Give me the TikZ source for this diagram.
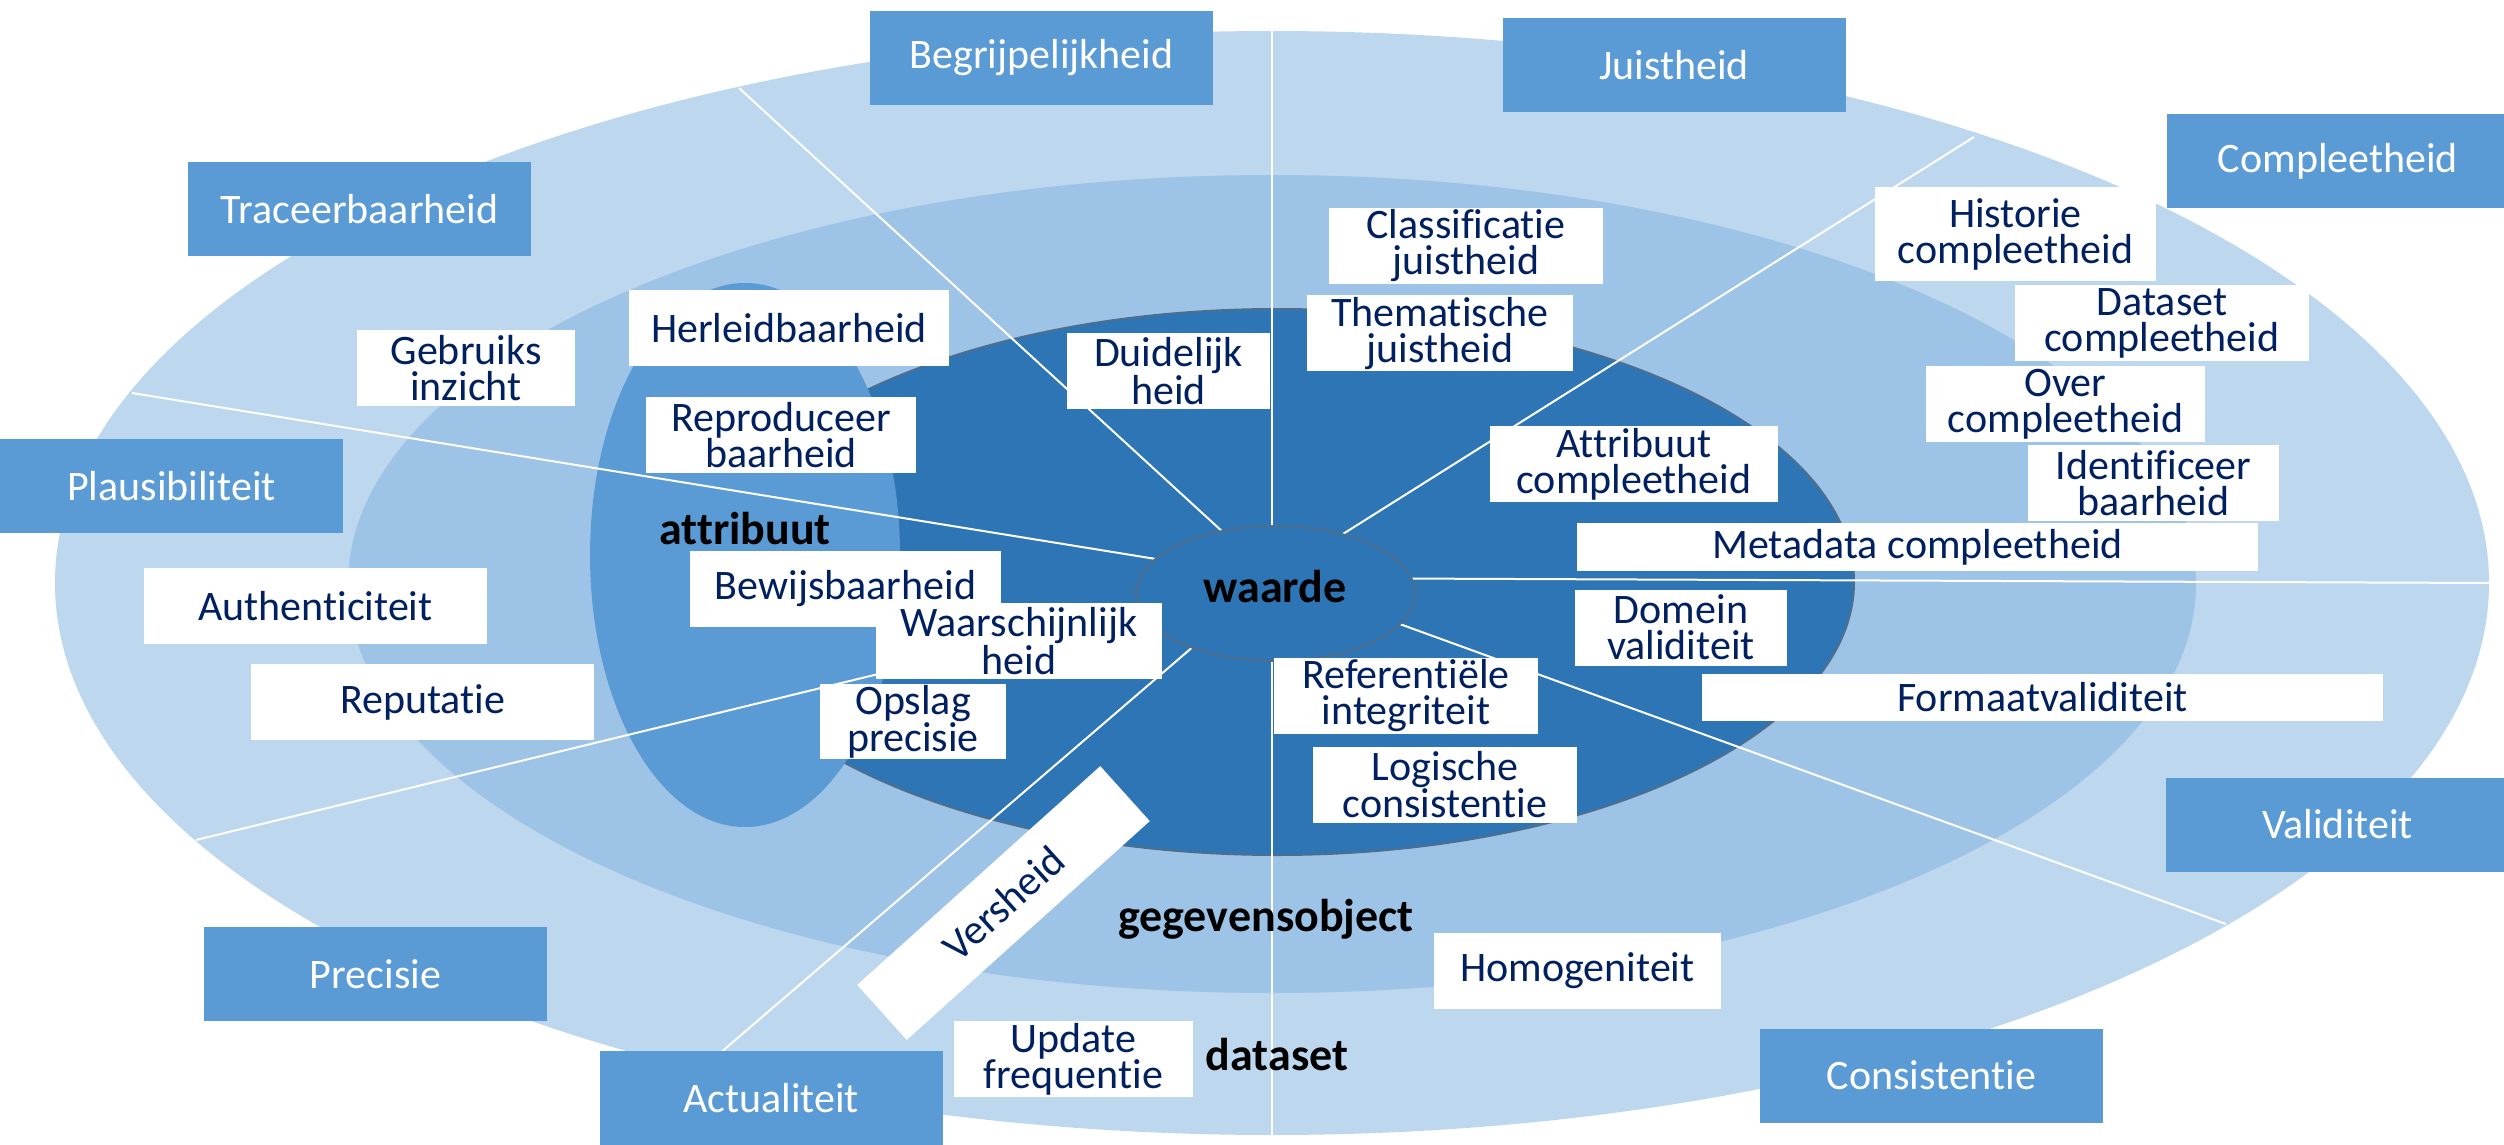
\documentclass[tikz,border=0pt]{standalone}
\usepackage{fontspec}
\setmainfont{Carlito}[Ligatures=CommonOff]
\usetikzlibrary{shapes.geometric}
\usetikzlibrary{positioning}

\definecolor{ringbuiten}{HTML}{BDD7EE}
\definecolor{ringmidden}{HTML}{9DC3E6}
\definecolor{ringkern}{HTML}{2E75B6}
\definecolor{accent}{HTML}{5B9BD5}
\definecolor{navy}{HTML}{002060}
\definecolor{rand}{HTML}{4E6E8E}

\begin{document}
\begin{tikzpicture}[x=1pt, y=-1pt,
  kenmerk/.style={fill=accent, text=white, minimum width=343pt, minimum height=94pt, inner sep=0pt, font=\fontsize{42}{36}\selectfont},
  dim/.style={fill=white, text=navy, align=center, minimum height=76pt, inner sep=0pt, font=\fontsize{42}{36}\selectfont},
  niveau/.style={anchor=base, font=\fontsize{46}{50}\selectfont\bfseries},
  spaak/.style={white, line width=2pt}]
  \useasboundingbox (0,0) rectangle (2504,1145);

  \fill [ringbuiten] (1272,583) ellipse [x radius=1217pt, y radius=552pt];
  \fill [ringmidden] (1272,584) ellipse [x radius=924pt, y radius=409pt];
  \filldraw [fill=ringkern, draw=rand, line width=2pt] (1277,582) ellipse [x radius=577pt, y radius=273pt];
  \fill [accent] (745,555) ellipse [x radius=155pt, y radius=272pt];

  \coordinate (hub) at (1273,578);
  \coordinate (r1) at (739,88);
  \coordinate (r2) at (1974,137);
  \coordinate (r3) at (2490,583);
  \coordinate (r4) at (2226,924);
  \coordinate (r5) at (705,1066);
  \coordinate (r6) at (196,840);
  \coordinate (r7) at (132,393);
  \coordinate (vTop) at (1272,31);
  \coordinate (vBot) at (1272,1136);
  \draw [spaak] (vTop) -- (vBot);
  \draw [spaak] (hub) -- (r1);
  \draw [spaak] (hub) -- (r2);
  \draw [spaak] (hub) -- (r3);
  \draw [spaak] (hub) -- (r4);
  \draw [spaak] (hub) -- (r5);
  \draw [spaak] (hub) -- (r6);
  \draw [spaak] (hub) -- (r7);

  \node (waarde) [ellipse, fill=ringkern, draw=rand, line width=2pt, minimum width=279pt, minimum height=135pt, inner sep=0pt] at (1275.5,593.5) {};
  \node (tWaarde) [niveau] at (1275,602) {waarde};
  \node (tAttr) [niveau] at (745,544) {attribuut};
  \node (tObj) [niveau] at (1266,931) {gegevensobject};
  \node (tSet) [niveau] at (1277,1070) {dataset};

  \node (kBegr) [kenmerk] at (1041.5,58) {Begrijpelijkheid};
  \node (kJuist) [kenmerk] at (1674,65) {Juistheid};
  \node (kCompl) [kenmerk] at (2338,161) {Compleetheid};
  \node (kTrac) [kenmerk] at (359.5,209) {Traceerbaarheid};
  \node (kPlaus) [kenmerk] at (171.5,486) {Plausibiliteit};
  \node (kPrec) [kenmerk] at (375.5,974) {Precisie};
  \node (kActu) [kenmerk] at (771,1098) {Actualiteit};
  \node (kVal) [kenmerk] at (2337.5,824.5) {Validiteit};
  \node (kCons) [kenmerk] at (1931.5,1075.5) {Consistentie};

  \node (iGebr) [dim, minimum width=218pt] at (466,368) {Gebruiks\\inzicht};
  \node (iHerl) [dim, minimum width=320pt] at (789,328) {Herleidbaarheid};
  \node (iRepr) [dim, minimum width=270pt, below=31pt of iHerl, xshift=-8pt] {Reproduceer\\baarheid};
  \node (iDuid) [dim, minimum width=203pt] at (1168.5,371) {Duidelijk\\heid};
  \node (iBewijs) [dim, minimum width=311pt] at (845.5,589) {Bewijsbaarheid};
  \node (iWaars) [dim, minimum width=286pt] at (1019,641) {Waarschijnlijk\\heid};
  \node (iOpsl) [dim, minimum width=186pt, minimum height=75pt] at (913,721.5) {Opslag\\precisie};
  \node (iAuth) [dim, minimum width=343pt] at (315.5,606) {Authenticiteit};
  \node (iRep) [dim, minimum width=343pt, below=20pt of iAuth, xshift=107pt] {Reputatie};
  \node (iUpd) [dim, minimum width=239pt] at (1073.5,1059) {Update\\frequentie};
  \node (iVers) [dim, minimum width=327pt, minimum height=74pt, rotate=42] at (1003.5,903) {Versheid};

  \node (iClas) [dim, minimum width=274pt] at (1466,246) {Classificatie\\juistheid};
  \node (iThem) [dim, minimum width=266pt, below=11pt of iClas, xshift=-26pt] {Thematische\\juistheid};
  \node (iAttr) [dim, minimum width=288pt] at (1634,464) {Attribuut\\compleetheid};
  \node (iHist) [dim, minimum width=281pt, minimum height=94pt] at (2015.5,234) {Historie\\compleetheid};
  \node (iDset) [dim, minimum width=294pt, below=4pt of iHist, xshift=146.5pt] {Dataset\\compleetheid};
  \node (iOver) [dim, minimum width=279pt, below=4pt of iDset, xshift=-96.5pt] {Over\\compleetheid};
  \node (iIdent) [dim, minimum width=251pt, below=3pt of iOver, xshift=88pt] {Identificeer\\baarheid};
  \node (iMeta) [dim, minimum width=681pt, minimum height=48pt] at (1917.5,547) {Metadata compleetheid};

  \node (iDom) [dim, minimum width=212pt] at (1681,627.5) {Domein\\validiteit};
  \node (iRef) [dim, minimum width=264pt] at (1406,695.5) {Referentiële\\integriteit};
  \node (iLog) [dim, minimum width=264pt, below=13pt of iRef, xshift=39pt] {Logische\\consistentie};
  \node (iForm) [dim, minimum width=681pt, minimum height=47pt] at (2042.5,697.5) {Formaatvaliditeit};
  \node (iHomo) [dim, minimum width=287pt] at (1577.5,970.5) {Homogeniteit};
\end{tikzpicture}
\end{document}
